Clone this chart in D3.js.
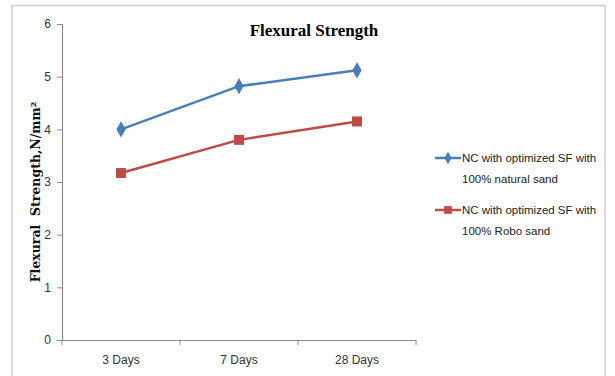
<!DOCTYPE html>
<html>
<head>
<meta charset="utf-8">
<title>Flexural Strength</title>
<script src="https://cdn.jsdelivr.net/npm/d3@7"></script>
<style>
  body { margin: 0; background: #fff; }
  text { font-family: "Liberation Sans", Arial, sans-serif; }
</style>
</head>
<body>
<script>
var categories = ["3 Days", "7 Days", "28 Days"];
var naturalSand = [4.0, 4.82, 5.12];
var roboSand = [3.17, 3.8, 4.15];
var yTicks = [0, 1, 2, 3, 4, 5, 6];
var seriesNames = [
  ["NC with optimized SF with", "100% natural sand"],
  ["NC with optimized SF with", "100% Robo sand"]
];
var seriesColors = ["#4a7ebb", "#be4b48"];

var w = 615, h = 376;
var svg = d3.select("body").append("svg")
    .attr("width", w)
    .attr("height", h);

// outer frame (bottom runs off the picture)
svg.append("path")
    .attr("d", "M12,380 L12,5.5 L605,5.5 L605,380")
    .attr("fill", "none")
    .attr("stroke", "#cfcfcf")
    .attr("stroke-width", 1.5);

var x = d3.scaleBand().domain(categories).range([62, 416]);
var y = d3.scaleLinear().domain([0, 6]).range([340, 24]);

svg.append("g")
    .attr("transform", "translate(62,0)")
    .call(d3.axisLeft(y).tickValues(yTicks).tickSize(5).tickPadding(6).tickFormat(d3.format("d")));

svg.append("g")
    .attr("transform", "translate(0,340)")
    .call(d3.axisBottom(x).tickSize(0).tickPadding(15));

// category boundary ticks
svg.append("g").selectAll("line")
    .data([0, 1, 2, 3])
    .enter().append("line")
    .attr("x1", function(i) { return 62 + i * x.bandwidth(); })
    .attr("x2", function(i) { return 62 + i * x.bandwidth(); })
    .attr("y1", 340).attr("y2", 345)
    .attr("stroke", "#8c8c8c");

svg.selectAll(".domain").attr("stroke", "#8c8c8c").attr("stroke-width", 1.2);
svg.selectAll(".tick line").attr("stroke", "#8c8c8c");
svg.selectAll(".tick text")
    .attr("fill", "#333")
    .style("font-size", "12px")
    .style("font-family", "'Liberation Sans Narrow', 'Liberation Sans', sans-serif");

// title
svg.append("text")
    .attr("x", 314).attr("y", 36)
    .attr("text-anchor", "middle")
    .style("font-family", "'Liberation Serif', serif")
    .style("font-weight", "bold")
    .style("font-size", "17px")
    .attr("fill", "#000")
    .text("Flexural Strength");

// y axis label
svg.append("text")
    .attr("transform", "translate(40,192) rotate(-90)")
    .attr("text-anchor", "middle")
    .style("font-family", "'DejaVu Serif', serif")
    .style("font-weight", "bold")
    .style("font-size", "12.5px")
    .attr("fill", "#111")
    .attr("xml:space", "preserve")
    .text("Flexural  Strength,N/mm\u00b2");

var line = d3.line()
    .x(function(d, i) { return x(categories[i]) + x.bandwidth() / 2; })
    .y(function(d) { return y(d); });

[naturalSand, roboSand].forEach(function(series, s) {
  svg.append("path")
      .attr("d", line(series))
      .attr("fill", "none")
      .attr("stroke", seriesColors[s])
      .attr("stroke-width", 2.5);
  svg.selectAll(".m" + s)
      .data(series)
      .enter().append("path")
      .attr("class", "m" + s)
      .attr("transform", function(d, i) {
        return "translate(" + (x(categories[i]) + x.bandwidth() / 2) + "," + y(d) + ")";
      })
      .attr("d", d3.symbol().type(s === 0 ? d3.symbolDiamond : d3.symbolSquare).size(s === 0 ? 75 : 100))
      .attr("fill", seriesColors[s]);
});

// legend
var legend = svg.append("g");
seriesNames.forEach(function(name, s) {
  var ly = 158 + s * 52;
  legend.append("line")
      .attr("x1", 435).attr("x2", 461)
      .attr("y1", ly).attr("y2", ly)
      .attr("stroke", seriesColors[s])
      .attr("stroke-width", 2.5);
  legend.append("path")
      .attr("transform", "translate(448," + ly + ")")
      .attr("d", d3.symbol().type(s === 0 ? d3.symbolDiamond : d3.symbolSquare).size(s === 0 ? 45 : 60))
      .attr("fill", seriesColors[s]);
  name.forEach(function(t, k) {
    legend.append("text")
        .attr("x", 462)
        .attr("y", ly + 4 + k * 21)
        .style("font-size", "11.5px")
        .style("font-family", "'Liberation Sans Narrow', 'Liberation Sans', sans-serif")
        .attr("fill", "#222")
        .text(t);
  });
});
</script>
</body>
</html>
